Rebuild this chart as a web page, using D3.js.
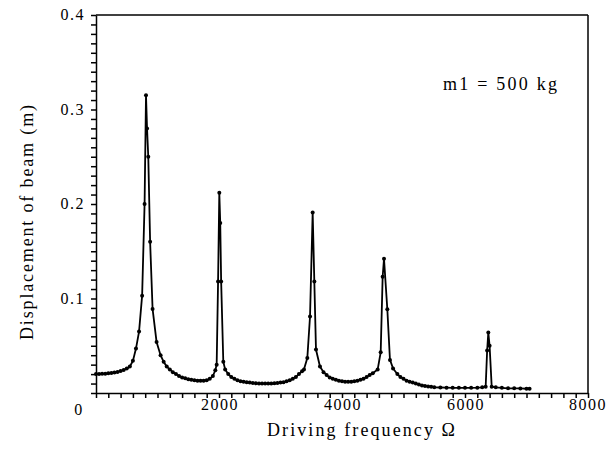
<!DOCTYPE html>
<html lang="en">
<head>
  <meta charset="utf-8">
  <title>Displacement of beam</title>
  <script src="https://d3js.org/d3.v7.min.js"></script>
  <style>
  body {
    margin: 0;
    background: white;
  }
  .axis path, .axis line {
    stroke: #000;
    stroke-width: 1.5px;
  }
  .tick-label {
    font-size: 16px;
    letter-spacing: 1.5px;
  }
  .axis-title {
    font-size: 18px;
  }
  </style>
</head>
<body>
<script>

// Display constants
var width = 607;
var height = 453;
var margin = {left: 96, right: 19, top: 15, bottom: 60};
var serif = "'Times New Roman', 'Liberation Serif', 'DejaVu Serif', serif";

// Data
var freq = [0, 50, 100, 150, 200, 250, 300, 350, 400, 450, 500, 550, 600, 650, 700, 750, 790, 813, 830, 850, 880, 920, 985,
  1050, 1100, 1150, 1200, 1250, 1300, 1350, 1400, 1450, 1500, 1550, 1600, 1650, 1700, 1750, 1800, 1850, 1900, 1940, 1962,
  1985, 2005, 2020, 2035, 2070, 2100, 2150, 2200, 2250, 2300, 2350, 2400, 2450, 2500, 2550, 2600, 2650, 2700, 2750, 2800,
  2850, 2900, 2950, 3000, 3050, 3100, 3150, 3200, 3250, 3300, 3350, 3382, 3436, 3480, 3523, 3550, 3577, 3642, 3700, 3750,
  3800, 3850, 3900, 3950, 4000, 4050, 4100, 4150, 4200, 4250, 4300, 4350, 4400, 4450, 4500, 4580, 4629, 4661, 4683, 4737,
  4780, 4830, 4900, 4950, 5000, 5050, 5100, 5150, 5200, 5250, 5300, 5350, 5400, 5450, 5500, 5600, 5700, 5800, 5900, 6000,
  6100, 6200, 6280, 6336, 6360, 6379, 6400, 6434, 6500, 6600, 6700, 6800, 6900, 7000, 7050];
var disp = [0.0200, 0.0201, 0.0203, 0.0205, 0.0208, 0.0212, 0.0217, 0.0223, 0.0232, 0.0243, 0.0258, 0.0280, 0.0340, 0.0470,
  0.0650, 0.1030, 0.2000, 0.3150, 0.2800, 0.2500, 0.1600, 0.0890, 0.0540,
  0.0400, 0.0330, 0.0280, 0.0250, 0.0220, 0.0200, 0.0180, 0.0165, 0.0155, 0.0145, 0.0140, 0.0135, 0.0130, 0.0130, 0.0130,
  0.0135, 0.0150, 0.0180, 0.0240, 0.0300,
  0.1180, 0.2120, 0.1800, 0.1180, 0.0330, 0.0250, 0.0200, 0.0170, 0.0150, 0.0135, 0.0125, 0.0120, 0.0115, 0.0110, 0.0105,
  0.0102, 0.0100, 0.0100, 0.0100, 0.0100,
  0.0100, 0.0102, 0.0105, 0.0110, 0.0115, 0.0125, 0.0135, 0.0150, 0.0170, 0.0200, 0.0230, 0.0250, 0.0370, 0.0810, 0.1910,
  0.1180, 0.0460, 0.0280, 0.0220, 0.0190,
  0.0165, 0.0150, 0.0140, 0.0130, 0.0125, 0.0120, 0.0120, 0.0120, 0.0125, 0.0130, 0.0140, 0.0150, 0.0170, 0.0190, 0.0210,
  0.0250, 0.0430, 0.1230, 0.1420, 0.0886,
  0.0350, 0.0260, 0.0200, 0.0170, 0.0150, 0.0130, 0.0120, 0.0110, 0.0100, 0.0090, 0.0080, 0.0075, 0.0070, 0.0065, 0.0060,
  0.0058, 0.0056, 0.0055, 0.0055, 0.0055,
  0.0055, 0.0056, 0.0060, 0.0067, 0.0450, 0.0640, 0.0500, 0.0067, 0.0060, 0.0055, 0.0050, 0.0050, 0.0048, 0.0045, 0.0045];

var xMajor = [2000, 4000, 6000, 8000];
var yMajor = [0.1, 0.2, 0.3, 0.4];
var xLabel = "Driving frequency \u03a9";
var yLabel = "Displacement of beam (m)";
var note = "m1 = 500 kg";

var points = freq.map(function(f, i) { return {f: f, d: disp[i]}; });

var svg = d3.select("body")
  .append("svg")
  .attr("width", width)
  .attr("height", height)
  .attr("font-family", serif);

var x = d3.scaleLinear()
  .domain([0, 8000])
  .range([margin.left, width - margin.right]);

var y = d3.scaleLinear()
  .domain([0, 0.4])
  .range([height - margin.bottom, margin.top]);

// Frame (top and right are plain lines)
svg.append("line")
  .attr("x1", x(0)).attr("y1", y(0.4))
  .attr("x2", x(8000)).attr("y2", y(0.4))
  .attr("stroke", "#000").attr("stroke-width", 1.5);
svg.append("line")
  .attr("x1", x(8000)).attr("y1", y(0.4))
  .attr("x2", x(8000)).attr("y2", y(0))
  .attr("stroke", "#000").attr("stroke-width", 1.5);

// Minor ticks
svg.append("g")
  .attr("class", "axis")
  .attr("transform", "translate(0," + y(0) + ")")
  .call(d3.axisBottom(x).tickValues(d3.range(0, 8001, 200)).tickSize(5).tickSizeOuter(0).tickFormat(""));

svg.append("g")
  .attr("class", "axis")
  .attr("transform", "translate(" + x(0) + ",0)")
  .call(d3.axisLeft(y).tickValues(d3.range(0, 41).map(function(i) { return i / 100; })).tickSize(5).tickSizeOuter(0).tickFormat(""));

// Major tick labels
svg.selectAll(".x-label")
  .data(xMajor)
  .enter().append("text")
  .attr("class", "tick-label")
  .attr("font-family", serif)
  .attr("x", function(d) { return Math.min(x(d) + 1, width - 19); })
  .attr("y", y(0) + 17)
  .attr("text-anchor", "middle")
  .text(function(d) { return d; });

svg.selectAll(".y-label")
  .data(yMajor)
  .enter().append("text")
  .attr("class", "tick-label")
  .attr("font-family", serif)
  .attr("x", x(0) - 11)
  .attr("y", function(d) { return y(d) + 5; })
  .attr("text-anchor", "end")
  .text(function(d) { return d.toFixed(1); });

// shared origin label
svg.append("text")
  .attr("class", "tick-label")
  .attr("font-family", serif)
  .attr("x", x(0) - 17)
  .attr("y", y(0) + 22)
  .attr("text-anchor", "middle")
  .text("0");

// Axis titles
svg.append("text")
  .attr("class", "axis-title")
  .attr("font-family", serif)
  .attr("x", 267)
  .attr("y", 436)
  .attr("textLength", 188)
  .attr("lengthAdjust", "spacing")
  .text(xLabel);

svg.append("text")
  .attr("class", "axis-title")
  .attr("font-family", serif)
  .attr("transform", "translate(33,340) rotate(-90)")
  .attr("textLength", 235)
  .attr("lengthAdjust", "spacing")
  .text(yLabel);

svg.append("text")
  .attr("class", "axis-title")
  .attr("font-family", serif)
  .attr("x", 443)
  .attr("y", 90)
  .attr("textLength", 114)
  .attr("lengthAdjust", "spacing")
  .text(note);

// Curve
var line = d3.line()
  .x(function(d) { return x(d.f); })
  .y(function(d) { return y(d.d); });

svg.append("path")
  .datum(points)
  .attr("fill", "none")
  .attr("stroke", "#000")
  .attr("stroke-width", 1.8)
  .attr("d", line);

svg.selectAll(".dot")
  .data(points)
  .enter().append("circle")
  .attr("class", "dot")
  .attr("cx", function(d) { return x(d.f); })
  .attr("cy", function(d) { return y(d.d); })
  .attr("r", 2)
  .attr("fill", "#000");

</script>
</body>
</html>
